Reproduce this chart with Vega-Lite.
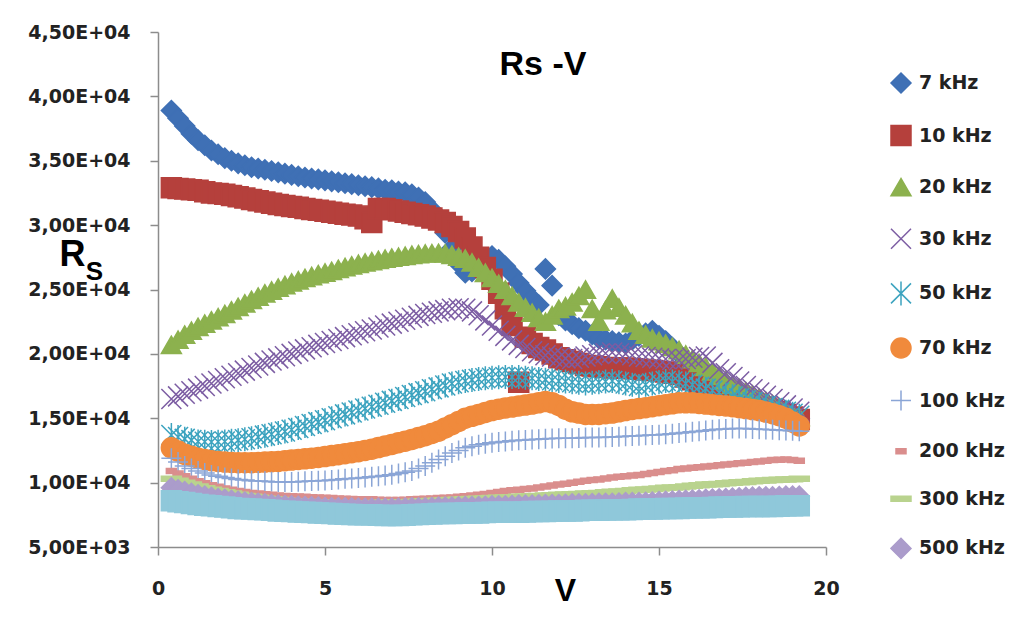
{
"$schema": "https://vega.github.io/schema/vega-lite/v6.json",
"width": 668, "height": 515,
"autosize": {"type": "none"},
"padding": {"left": 158, "top": 32, "right": 203, "bottom": 77},
"background": "white",
"config": {
 "view": {"stroke": null},
 "axis": {"grid": false, "domainColor": "#8c8c8c", "tickColor": "#8c8c8c", "domainWidth": 1.5, "tickWidth": 1.5, "tickSize": 8, "labelFont": "DejaVu Sans", "labelFontSize": 19, "labelFontWeight": "bold", "labelColor": "#222222"},
 "legend": {"title": null, "orient": "none", "legendX": 732, "legendY": 40, "symbolSize": 400, "symbolStrokeWidth": 1.5, "labelFont": "DejaVu Sans", "labelFontSize": 19, "labelFontWeight": "bold", "labelColor": "#222222", "rowPadding": 26.6, "labelOffset": 7, "padding": 0}
},
"title": {"text": "Rs -V", "font": "Liberation Sans", "fontSize": 34, "fontWeight": "bold", "color": "#000000", "anchor": "middle", "frame": "group", "dx": 51, "offset": -76, "baseline": "middle"},
"datasets": {
"a": [
{"f":7,"v":0.4,"r":38900},{"f":7,"v":0.6,"r":38300},{"f":7,"v":0.8,"r":37700},{"f":7,"v":1,"r":37100},{"f":7,"v":1.2,"r":36600},{"f":7,"v":1.4,"r":36200},{"f":7,"v":1.6,"r":35800},{"f":7,"v":1.8,"r":35500},{"f":7,"v":2,"r":35200},{"f":7,"v":2.2,"r":35000},{"f":7,"v":2.4,"r":34800},{"f":7,"v":2.6,"r":34650},{"f":7,"v":2.8,"r":34500},{"f":7,"v":3,"r":34400},{"f":7,"v":3.2,"r":34300},{"f":7,"v":3.4,"r":34200},{"f":7,"v":3.6,"r":34100},{"f":7,"v":3.8,"r":34000},{"f":7,"v":4,"r":33900},{"f":7,"v":4.2,"r":33800},{"f":7,"v":4.4,"r":33700},{"f":7,"v":4.6,"r":33620},{"f":7,"v":4.8,"r":33550},{"f":7,"v":5,"r":33480},{"f":7,"v":5.2,"r":33400},{"f":7,"v":5.4,"r":33330},{"f":7,"v":5.6,"r":33250},{"f":7,"v":5.8,"r":33180},{"f":7,"v":6,"r":33100},{"f":7,"v":6.2,"r":33020},{"f":7,"v":6.4,"r":32950},{"f":7,"v":6.6,"r":32850},{"f":7,"v":6.8,"r":32750},{"f":7,"v":7,"r":32700},{"f":7,"v":7.2,"r":32600},{"f":7,"v":7.4,"r":32550},{"f":7,"v":7.6,"r":32400},{"f":7,"v":7.8,"r":32150},{"f":7,"v":8,"r":31800},{"f":7,"v":8.2,"r":31200},{"f":7,"v":8.4,"r":30500},{"f":7,"v":8.6,"r":29400},{"f":7,"v":8.8,"r":28200},{"f":7,"v":9,"r":27000},{"f":7,"v":9.2,"r":26300},{"f":7,"v":9.4,"r":26400},{"f":7,"v":9.6,"r":26800},{"f":7,"v":9.8,"r":27300},{"f":7,"v":10,"r":27600},{"f":7,"v":10.2,"r":27300},{"f":7,"v":10.4,"r":26800},{"f":7,"v":10.6,"r":26200},{"f":7,"v":10.8,"r":25500},{"f":7,"v":11,"r":24900},{"f":7,"v":11.2,"r":24300},{"f":7,"v":11.4,"r":23800},{"f":7,"v":11.6,"r":26600},{"f":7,"v":11.8,"r":25300},{"f":7,"v":12,"r":23000},{"f":7,"v":12.2,"r":22600},{"f":7,"v":12.4,"r":22300},{"f":7,"v":12.6,"r":22000},{"f":7,"v":12.8,"r":21800},{"f":7,"v":13,"r":21500},{"f":7,"v":13.2,"r":21200},{"f":7,"v":13.4,"r":21100},{"f":7,"v":13.6,"r":21000},{"f":7,"v":13.8,"r":20900},{"f":7,"v":14,"r":20800},{"f":7,"v":14.2,"r":21100},{"f":7,"v":14.4,"r":21400},{"f":7,"v":14.6,"r":21600},{"f":7,"v":14.8,"r":21800},{"f":7,"v":15,"r":21400},{"f":7,"v":15.2,"r":21000},{"f":7,"v":15.4,"r":20500},{"f":7,"v":15.6,"r":20000},{"f":7,"v":15.8,"r":19600},{"f":7,"v":16,"r":19200},{"f":7,"v":16.2,"r":18900},{"f":7,"v":16.4,"r":18600},{"f":7,"v":16.6,"r":18200},{"f":7,"v":16.8,"r":17800},{"f":7,"v":17,"r":17550},{"f":7,"v":17.2,"r":17300},{"f":7,"v":17.4,"r":17050},{"f":7,"v":17.6,"r":16800},{"f":7,"v":17.8,"r":16550},{"f":7,"v":18,"r":16300},{"f":7,"v":18.2,"r":16100},{"f":7,"v":18.4,"r":15900},{"f":7,"v":18.6,"r":15700},{"f":7,"v":18.8,"r":15500},{"f":7,"v":19,"r":15250},{"f":7,"v":19.2,"r":15000},
{"f":10,"v":0.4,"r":32900},{"f":10,"v":0.6,"r":32850},{"f":10,"v":0.8,"r":32800},{"f":10,"v":1,"r":32750},{"f":10,"v":1.2,"r":32700},{"f":10,"v":1.4,"r":32600},{"f":10,"v":1.6,"r":32500},{"f":10,"v":1.8,"r":32450},{"f":10,"v":2,"r":32400},{"f":10,"v":2.2,"r":32300},{"f":10,"v":2.4,"r":32200},{"f":10,"v":2.6,"r":32100},{"f":10,"v":2.8,"r":32000},{"f":10,"v":3,"r":31900},{"f":10,"v":3.2,"r":31800},{"f":10,"v":3.4,"r":31700},{"f":10,"v":3.6,"r":31600},{"f":10,"v":3.8,"r":31520},{"f":10,"v":4,"r":31450},{"f":10,"v":4.2,"r":31380},{"f":10,"v":4.4,"r":31300},{"f":10,"v":4.6,"r":31220},{"f":10,"v":4.8,"r":31150},{"f":10,"v":5,"r":31080},{"f":10,"v":5.2,"r":31000},{"f":10,"v":5.4,"r":30920},{"f":10,"v":5.6,"r":30850},{"f":10,"v":5.8,"r":30780},{"f":10,"v":6,"r":30700},{"f":10,"v":6.2,"r":30500},{"f":10,"v":6.4,"r":30200},{"f":10,"v":6.6,"r":31300},{"f":10,"v":6.8,"r":31300},{"f":10,"v":7,"r":31200},{"f":10,"v":7.2,"r":31100},{"f":10,"v":7.4,"r":31000},{"f":10,"v":7.6,"r":30900},{"f":10,"v":7.8,"r":30800},{"f":10,"v":8,"r":30700},{"f":10,"v":8.2,"r":30550},{"f":10,"v":8.4,"r":30400},{"f":10,"v":8.6,"r":30200},{"f":10,"v":8.8,"r":29900},{"f":10,"v":9,"r":29500},{"f":10,"v":9.2,"r":29000},{"f":10,"v":9.4,"r":28300},{"f":10,"v":9.6,"r":27500},{"f":10,"v":9.8,"r":26700},{"f":10,"v":10,"r":25800},{"f":10,"v":10.2,"r":24700},{"f":10,"v":10.4,"r":23500},{"f":10,"v":10.6,"r":22200},{"f":10,"v":10.8,"r":17800},{"f":10,"v":11,"r":21300},{"f":10,"v":11.2,"r":20800},{"f":10,"v":11.4,"r":20500},{"f":10,"v":11.6,"r":20300},{"f":10,"v":11.8,"r":20000},{"f":10,"v":12,"r":19700},{"f":10,"v":12.2,"r":19550},{"f":10,"v":12.4,"r":19400},{"f":10,"v":12.6,"r":19250},{"f":10,"v":12.8,"r":19100},{"f":10,"v":13,"r":19050},{"f":10,"v":13.2,"r":19000},{"f":10,"v":13.4,"r":18950},{"f":10,"v":13.6,"r":18900},{"f":10,"v":13.8,"r":18900},{"f":10,"v":14,"r":18900},{"f":10,"v":14.2,"r":18850},{"f":10,"v":14.4,"r":18800},{"f":10,"v":14.6,"r":18750},{"f":10,"v":14.8,"r":18700},{"f":10,"v":15,"r":18650},{"f":10,"v":15.2,"r":18600},{"f":10,"v":15.4,"r":18500},{"f":10,"v":15.6,"r":18400},{"f":10,"v":15.8,"r":18200},{"f":10,"v":16,"r":18000},{"f":10,"v":16.2,"r":17800},{"f":10,"v":16.4,"r":17600},{"f":10,"v":16.6,"r":17400},{"f":10,"v":16.8,"r":17200},{"f":10,"v":17,"r":17000},{"f":10,"v":17.2,"r":16800},{"f":10,"v":17.4,"r":16600},{"f":10,"v":17.6,"r":16400},{"f":10,"v":17.8,"r":16200},{"f":10,"v":18,"r":16000},{"f":10,"v":18.2,"r":15850},{"f":10,"v":18.4,"r":15700},{"f":10,"v":18.6,"r":15500},{"f":10,"v":18.8,"r":15300},{"f":10,"v":19,"r":15100},{"f":10,"v":19.2,"r":14900},
{"f":20,"v":0.4,"r":20700},{"f":20,"v":0.6,"r":21100},{"f":20,"v":0.8,"r":21500},{"f":20,"v":1,"r":21800},{"f":20,"v":1.2,"r":22100},{"f":20,"v":1.4,"r":22350},{"f":20,"v":1.6,"r":22600},{"f":20,"v":1.8,"r":22850},{"f":20,"v":2,"r":23100},{"f":20,"v":2.2,"r":23380},{"f":20,"v":2.4,"r":23650},{"f":20,"v":2.6,"r":23920},{"f":20,"v":2.8,"r":24200},{"f":20,"v":3,"r":24450},{"f":20,"v":3.2,"r":24700},{"f":20,"v":3.4,"r":24920},{"f":20,"v":3.6,"r":25150},{"f":20,"v":3.8,"r":25350},{"f":20,"v":4,"r":25550},{"f":20,"v":4.2,"r":25720},{"f":20,"v":4.4,"r":25900},{"f":20,"v":4.6,"r":26050},{"f":20,"v":4.8,"r":26200},{"f":20,"v":5,"r":26320},{"f":20,"v":5.2,"r":26450},{"f":20,"v":5.4,"r":26600},{"f":20,"v":5.6,"r":26750},{"f":20,"v":5.8,"r":26880},{"f":20,"v":6,"r":27000},{"f":20,"v":6.2,"r":27100},{"f":20,"v":6.4,"r":27200},{"f":20,"v":6.6,"r":27300},{"f":20,"v":6.8,"r":27400},{"f":20,"v":7,"r":27480},{"f":20,"v":7.2,"r":27550},{"f":20,"v":7.4,"r":27620},{"f":20,"v":7.6,"r":27700},{"f":20,"v":7.8,"r":27750},{"f":20,"v":8,"r":27800},{"f":20,"v":8.2,"r":27820},{"f":20,"v":8.4,"r":27850},{"f":20,"v":8.6,"r":27800},{"f":20,"v":8.8,"r":27700},{"f":20,"v":9,"r":27550},{"f":20,"v":9.2,"r":27400},{"f":20,"v":9.4,"r":27100},{"f":20,"v":9.6,"r":26700},{"f":20,"v":9.8,"r":26300},{"f":20,"v":10,"r":25900},{"f":20,"v":10.2,"r":25450},{"f":20,"v":10.4,"r":25000},{"f":20,"v":10.6,"r":24500},{"f":20,"v":10.8,"r":24000},{"f":20,"v":11,"r":23600},{"f":20,"v":11.2,"r":23200},{"f":20,"v":11.4,"r":22800},{"f":20,"v":11.6,"r":22500},{"f":20,"v":11.8,"r":23000},{"f":20,"v":12,"r":23500},{"f":20,"v":12.2,"r":23700},{"f":20,"v":12.4,"r":24000},{"f":20,"v":12.6,"r":24500},{"f":20,"v":12.8,"r":25000},{"f":20,"v":13,"r":23500},{"f":20,"v":13.2,"r":22500},{"f":20,"v":13.4,"r":23400},{"f":20,"v":13.6,"r":24300},{"f":20,"v":13.8,"r":23600},{"f":20,"v":14,"r":23000},{"f":20,"v":14.2,"r":22400},{"f":20,"v":14.4,"r":21800},{"f":20,"v":14.6,"r":21500},{"f":20,"v":14.8,"r":21200},{"f":20,"v":15,"r":21000},{"f":20,"v":15.2,"r":20800},{"f":20,"v":15.4,"r":20550},{"f":20,"v":15.6,"r":20300},{"f":20,"v":15.8,"r":19950},{"f":20,"v":16,"r":19600},{"f":20,"v":16.2,"r":19300},{"f":20,"v":16.4,"r":19000},{"f":20,"v":16.6,"r":18650},{"f":20,"v":16.8,"r":18300},{"f":20,"v":17,"r":17950},{"f":20,"v":17.2,"r":17600},{"f":20,"v":17.4,"r":17350},{"f":20,"v":17.6,"r":17100},{"f":20,"v":17.8,"r":16850},{"f":20,"v":18,"r":16600},{"f":20,"v":18.2,"r":16350},{"f":20,"v":18.4,"r":16100},{"f":20,"v":18.6,"r":15850},{"f":20,"v":18.8,"r":15600},{"f":20,"v":19,"r":15350},{"f":20,"v":19.2,"r":15100},
{"f":30,"v":0.4,"r":16500},{"f":30,"v":0.6,"r":16700},{"f":30,"v":0.8,"r":16900},{"f":30,"v":1,"r":17100},{"f":30,"v":1.2,"r":17300},{"f":30,"v":1.4,"r":17500},{"f":30,"v":1.6,"r":17700},{"f":30,"v":1.8,"r":17900},{"f":30,"v":2,"r":18100},{"f":30,"v":2.2,"r":18300},{"f":30,"v":2.4,"r":18500},{"f":30,"v":2.6,"r":18700},{"f":30,"v":2.8,"r":18900},{"f":30,"v":3,"r":19100},{"f":30,"v":3.2,"r":19300},{"f":30,"v":3.4,"r":19480},{"f":30,"v":3.6,"r":19650},{"f":30,"v":3.8,"r":19820},{"f":30,"v":4,"r":20000},{"f":30,"v":4.2,"r":20180},{"f":30,"v":4.4,"r":20350},{"f":30,"v":4.6,"r":20520},{"f":30,"v":4.8,"r":20700},{"f":30,"v":5,"r":20850},{"f":30,"v":5.2,"r":21000},{"f":30,"v":5.4,"r":21150},{"f":30,"v":5.6,"r":21300},{"f":30,"v":5.8,"r":21450},{"f":30,"v":6,"r":21600},{"f":30,"v":6.2,"r":21750},{"f":30,"v":6.4,"r":21900},{"f":30,"v":6.6,"r":22050},{"f":30,"v":6.8,"r":22200},{"f":30,"v":7,"r":22350},{"f":30,"v":7.2,"r":22500},{"f":30,"v":7.4,"r":22650},{"f":30,"v":7.6,"r":22800},{"f":30,"v":7.8,"r":22950},{"f":30,"v":8,"r":23100},{"f":30,"v":8.2,"r":23200},{"f":30,"v":8.4,"r":23300},{"f":30,"v":8.6,"r":23400},{"f":30,"v":8.8,"r":23500},{"f":30,"v":9,"r":23550},{"f":30,"v":9.2,"r":23500},{"f":30,"v":9.4,"r":23300},{"f":30,"v":9.6,"r":23000},{"f":30,"v":9.8,"r":22600},{"f":30,"v":10,"r":22200},{"f":30,"v":10.2,"r":21800},{"f":30,"v":10.4,"r":21400},{"f":30,"v":10.6,"r":21050},{"f":30,"v":10.8,"r":20700},{"f":30,"v":11,"r":20450},{"f":30,"v":11.2,"r":20200},{"f":30,"v":11.4,"r":20050},{"f":30,"v":11.6,"r":19900},{"f":30,"v":11.8,"r":19800},{"f":30,"v":12,"r":19700},{"f":30,"v":12.2,"r":19650},{"f":30,"v":12.4,"r":19600},{"f":30,"v":12.6,"r":19700},{"f":30,"v":12.8,"r":19800},{"f":30,"v":13,"r":19900},{"f":30,"v":13.2,"r":20000},{"f":30,"v":13.4,"r":20050},{"f":30,"v":13.6,"r":20100},{"f":30,"v":13.8,"r":20050},{"f":30,"v":14,"r":20000},{"f":30,"v":14.2,"r":19900},{"f":30,"v":14.4,"r":19800},{"f":30,"v":14.6,"r":19750},{"f":30,"v":14.8,"r":19700},{"f":30,"v":15,"r":19650},{"f":30,"v":15.2,"r":19600},{"f":30,"v":15.4,"r":19550},{"f":30,"v":15.6,"r":19500},{"f":30,"v":15.8,"r":19600},{"f":30,"v":16,"r":19700},{"f":30,"v":16.2,"r":19750},{"f":30,"v":16.4,"r":19800},{"f":30,"v":16.6,"r":19300},{"f":30,"v":16.8,"r":18800},{"f":30,"v":17,"r":18500},{"f":30,"v":17.2,"r":18200},{"f":30,"v":17.4,"r":17850},{"f":30,"v":17.6,"r":17500},{"f":30,"v":17.8,"r":17250},{"f":30,"v":18,"r":17000},{"f":30,"v":18.2,"r":16750},{"f":30,"v":18.4,"r":16500},{"f":30,"v":18.6,"r":16250},{"f":30,"v":18.8,"r":16000},{"f":30,"v":19,"r":15750},{"f":30,"v":19.2,"r":15500},
{"f":50,"v":0.4,"r":13700},{"f":50,"v":0.6,"r":13550},{"f":50,"v":0.8,"r":13400},{"f":50,"v":1,"r":13300},{"f":50,"v":1.2,"r":13200},{"f":50,"v":1.4,"r":13170},{"f":50,"v":1.6,"r":13150},{"f":50,"v":1.8,"r":13170},{"f":50,"v":2,"r":13200},{"f":50,"v":2.2,"r":13250},{"f":50,"v":2.4,"r":13300},{"f":50,"v":2.6,"r":13370},{"f":50,"v":2.8,"r":13450},{"f":50,"v":3,"r":13550},{"f":50,"v":3.2,"r":13650},{"f":50,"v":3.4,"r":13750},{"f":50,"v":3.6,"r":13850},{"f":50,"v":3.8,"r":13970},{"f":50,"v":4,"r":14100},{"f":50,"v":4.2,"r":14250},{"f":50,"v":4.4,"r":14400},{"f":50,"v":4.6,"r":14550},{"f":50,"v":4.8,"r":14700},{"f":50,"v":5,"r":14850},{"f":50,"v":5.2,"r":15000},{"f":50,"v":5.4,"r":15150},{"f":50,"v":5.6,"r":15300},{"f":50,"v":5.8,"r":15450},{"f":50,"v":6,"r":15600},{"f":50,"v":6.2,"r":15750},{"f":50,"v":6.4,"r":15900},{"f":50,"v":6.6,"r":16050},{"f":50,"v":6.8,"r":16200},{"f":50,"v":7,"r":16350},{"f":50,"v":7.2,"r":16500},{"f":50,"v":7.4,"r":16650},{"f":50,"v":7.6,"r":16800},{"f":50,"v":7.8,"r":16950},{"f":50,"v":8,"r":17100},{"f":50,"v":8.2,"r":17250},{"f":50,"v":8.4,"r":17400},{"f":50,"v":8.6,"r":17550},{"f":50,"v":8.8,"r":17700},{"f":50,"v":9,"r":17800},{"f":50,"v":9.2,"r":17900},{"f":50,"v":9.4,"r":17980},{"f":50,"v":9.6,"r":18050},{"f":50,"v":9.8,"r":18100},{"f":50,"v":10,"r":18150},{"f":50,"v":10.2,"r":18180},{"f":50,"v":10.4,"r":18200},{"f":50,"v":10.6,"r":18200},{"f":50,"v":10.8,"r":18200},{"f":50,"v":11,"r":18150},{"f":50,"v":11.2,"r":18100},{"f":50,"v":11.4,"r":18050},{"f":50,"v":11.6,"r":18000},{"f":50,"v":11.8,"r":17950},{"f":50,"v":12,"r":17900},{"f":50,"v":12.2,"r":17850},{"f":50,"v":12.4,"r":17800},{"f":50,"v":12.6,"r":17750},{"f":50,"v":12.8,"r":17700},{"f":50,"v":13,"r":17750},{"f":50,"v":13.2,"r":17800},{"f":50,"v":13.4,"r":17850},{"f":50,"v":13.6,"r":17900},{"f":50,"v":13.8,"r":17800},{"f":50,"v":14,"r":17700},{"f":50,"v":14.2,"r":17600},{"f":50,"v":14.4,"r":17500},{"f":50,"v":14.6,"r":17600},{"f":50,"v":14.8,"r":17700},{"f":50,"v":15,"r":17800},{"f":50,"v":15.2,"r":17900},{"f":50,"v":15.4,"r":17850},{"f":50,"v":15.6,"r":17800},{"f":50,"v":15.8,"r":17700},{"f":50,"v":16,"r":17600},{"f":50,"v":16.2,"r":17450},{"f":50,"v":16.4,"r":17300},{"f":50,"v":16.6,"r":17150},{"f":50,"v":16.8,"r":17000},{"f":50,"v":17,"r":16850},{"f":50,"v":17.2,"r":16700},{"f":50,"v":17.4,"r":16550},{"f":50,"v":17.6,"r":16400},{"f":50,"v":17.8,"r":16250},{"f":50,"v":18,"r":16100},{"f":50,"v":18.2,"r":15950},{"f":50,"v":18.4,"r":15800},{"f":50,"v":18.6,"r":15650},{"f":50,"v":18.8,"r":15500},{"f":50,"v":19,"r":15350},{"f":50,"v":19.2,"r":15200}
],
"b": [
{"f":70,"v":0.4,"r":12700},{"f":70,"v":0.6,"r":12450},{"f":70,"v":0.8,"r":12200},{"f":70,"v":1,"r":12050},{"f":70,"v":1.2,"r":11900},{"f":70,"v":1.4,"r":11800},{"f":70,"v":1.6,"r":11700},{"f":70,"v":1.8,"r":11650},{"f":70,"v":2,"r":11600},{"f":70,"v":2.2,"r":11570},{"f":70,"v":2.4,"r":11550},{"f":70,"v":2.6,"r":11550},{"f":70,"v":2.8,"r":11550},{"f":70,"v":3,"r":11570},{"f":70,"v":3.2,"r":11600},{"f":70,"v":3.4,"r":11620},{"f":70,"v":3.6,"r":11650},{"f":70,"v":3.8,"r":11700},{"f":70,"v":4,"r":11750},{"f":70,"v":4.2,"r":11800},{"f":70,"v":4.4,"r":11850},{"f":70,"v":4.6,"r":11900},{"f":70,"v":4.8,"r":11950},{"f":70,"v":5,"r":12020},{"f":70,"v":5.2,"r":12100},{"f":70,"v":5.4,"r":12170},{"f":70,"v":5.6,"r":12250},{"f":70,"v":5.8,"r":12320},{"f":70,"v":6,"r":12400},{"f":70,"v":6.2,"r":12500},{"f":70,"v":6.4,"r":12600},{"f":70,"v":6.6,"r":12720},{"f":70,"v":6.8,"r":12850},{"f":70,"v":7,"r":12970},{"f":70,"v":7.2,"r":13100},{"f":70,"v":7.4,"r":13220},{"f":70,"v":7.6,"r":13350},{"f":70,"v":7.8,"r":13500},{"f":70,"v":8,"r":13650},{"f":70,"v":8.2,"r":13820},{"f":70,"v":8.4,"r":14000},{"f":70,"v":8.6,"r":14250},{"f":70,"v":8.8,"r":14500},{"f":70,"v":9,"r":14750},{"f":70,"v":9.2,"r":15000},{"f":70,"v":9.4,"r":15150},{"f":70,"v":9.6,"r":15300},{"f":70,"v":9.8,"r":15450},{"f":70,"v":10,"r":15600},{"f":70,"v":10.2,"r":15700},{"f":70,"v":10.4,"r":15800},{"f":70,"v":10.6,"r":15870},{"f":70,"v":10.8,"r":15950},{"f":70,"v":11,"r":16020},{"f":70,"v":11.2,"r":16100},{"f":70,"v":11.4,"r":16200},{"f":70,"v":11.6,"r":16300},{"f":70,"v":11.8,"r":16200},{"f":70,"v":12,"r":16000},{"f":70,"v":12.2,"r":15700},{"f":70,"v":12.4,"r":15500},{"f":70,"v":12.6,"r":15400},{"f":70,"v":12.8,"r":15300},{"f":70,"v":13,"r":15300},{"f":70,"v":13.2,"r":15300},{"f":70,"v":13.4,"r":15350},{"f":70,"v":13.6,"r":15400},{"f":70,"v":13.8,"r":15500},{"f":70,"v":14,"r":15600},{"f":70,"v":14.2,"r":15680},{"f":70,"v":14.4,"r":15750},{"f":70,"v":14.6,"r":15820},{"f":70,"v":14.8,"r":15900},{"f":70,"v":15,"r":15970},{"f":70,"v":15.2,"r":16050},{"f":70,"v":15.4,"r":16120},{"f":70,"v":15.6,"r":16200},{"f":70,"v":15.8,"r":16200},{"f":70,"v":16,"r":16200},{"f":70,"v":16.2,"r":16150},{"f":70,"v":16.4,"r":16100},{"f":70,"v":16.6,"r":16050},{"f":70,"v":16.8,"r":16000},{"f":70,"v":17,"r":15950},{"f":70,"v":17.2,"r":15900},{"f":70,"v":17.4,"r":15820},{"f":70,"v":17.6,"r":15750},{"f":70,"v":17.8,"r":15670},{"f":70,"v":18,"r":15600},{"f":70,"v":18.2,"r":15480},{"f":70,"v":18.4,"r":15350},{"f":70,"v":18.6,"r":15200},{"f":70,"v":18.8,"r":15000},{"f":70,"v":19,"r":14700},{"f":70,"v":19.2,"r":14400},
{"f":100,"v":0.4,"r":11900},{"f":100,"v":0.6,"r":11600},{"f":100,"v":0.8,"r":11300},{"f":100,"v":1,"r":11100},{"f":100,"v":1.2,"r":10900},{"f":100,"v":1.4,"r":10750},{"f":100,"v":1.6,"r":10600},{"f":100,"v":1.8,"r":10500},{"f":100,"v":2,"r":10400},{"f":100,"v":2.2,"r":10320},{"f":100,"v":2.4,"r":10250},{"f":100,"v":2.6,"r":10200},{"f":100,"v":2.8,"r":10150},{"f":100,"v":3,"r":10120},{"f":100,"v":3.2,"r":10100},{"f":100,"v":3.4,"r":10070},{"f":100,"v":3.6,"r":10050},{"f":100,"v":3.8,"r":10050},{"f":100,"v":4,"r":10050},{"f":100,"v":4.2,"r":10070},{"f":100,"v":4.4,"r":10100},{"f":100,"v":4.6,"r":10120},{"f":100,"v":4.8,"r":10150},{"f":100,"v":5,"r":10170},{"f":100,"v":5.2,"r":10200},{"f":100,"v":5.4,"r":10250},{"f":100,"v":5.6,"r":10300},{"f":100,"v":5.8,"r":10320},{"f":100,"v":6,"r":10350},{"f":100,"v":6.2,"r":10400},{"f":100,"v":6.4,"r":10450},{"f":100,"v":6.6,"r":10500},{"f":100,"v":6.8,"r":10550},{"f":100,"v":7,"r":10620},{"f":100,"v":7.2,"r":10700},{"f":100,"v":7.4,"r":10800},{"f":100,"v":7.6,"r":10900},{"f":100,"v":7.8,"r":11100},{"f":100,"v":8,"r":11300},{"f":100,"v":8.2,"r":11550},{"f":100,"v":8.4,"r":11800},{"f":100,"v":8.6,"r":12050},{"f":100,"v":8.8,"r":12300},{"f":100,"v":9,"r":12500},{"f":100,"v":9.2,"r":12700},{"f":100,"v":9.4,"r":12830},{"f":100,"v":9.6,"r":12950},{"f":100,"v":9.8,"r":13020},{"f":100,"v":10,"r":13100},{"f":100,"v":10.2,"r":13150},{"f":100,"v":10.4,"r":13200},{"f":100,"v":10.6,"r":13250},{"f":100,"v":10.8,"r":13300},{"f":100,"v":11,"r":13320},{"f":100,"v":11.2,"r":13350},{"f":100,"v":11.4,"r":13370},{"f":100,"v":11.6,"r":13400},{"f":100,"v":11.8,"r":13420},{"f":100,"v":12,"r":13450},{"f":100,"v":12.2,"r":13450},{"f":100,"v":12.4,"r":13450},{"f":100,"v":12.6,"r":13470},{"f":100,"v":12.8,"r":13500},{"f":100,"v":13,"r":13500},{"f":100,"v":13.2,"r":13500},{"f":100,"v":13.4,"r":13520},{"f":100,"v":13.6,"r":13550},{"f":100,"v":13.8,"r":13570},{"f":100,"v":14,"r":13600},{"f":100,"v":14.2,"r":13620},{"f":100,"v":14.4,"r":13650},{"f":100,"v":14.6,"r":13670},{"f":100,"v":14.8,"r":13700},{"f":100,"v":15,"r":13720},{"f":100,"v":15.2,"r":13750},{"f":100,"v":15.4,"r":13800},{"f":100,"v":15.6,"r":13850},{"f":100,"v":15.8,"r":13900},{"f":100,"v":16,"r":13950},{"f":100,"v":16.2,"r":14000},{"f":100,"v":16.4,"r":14050},{"f":100,"v":16.6,"r":14100},{"f":100,"v":16.8,"r":14150},{"f":100,"v":17,"r":14170},{"f":100,"v":17.2,"r":14200},{"f":100,"v":17.4,"r":14200},{"f":100,"v":17.6,"r":14200},{"f":100,"v":17.8,"r":14170},{"f":100,"v":18,"r":14150},{"f":100,"v":18.2,"r":14120},{"f":100,"v":18.4,"r":14100},{"f":100,"v":18.6,"r":14070},{"f":100,"v":18.8,"r":14050},{"f":100,"v":19,"r":14020},{"f":100,"v":19.2,"r":14000},
{"f":200,"v":0.4,"r":10900},{"f":200,"v":0.6,"r":10700},{"f":200,"v":0.8,"r":10500},{"f":200,"v":1,"r":10300},{"f":200,"v":1.2,"r":10100},{"f":200,"v":1.4,"r":9950},{"f":200,"v":1.6,"r":9800},{"f":200,"v":1.8,"r":9670},{"f":200,"v":2,"r":9550},{"f":200,"v":2.2,"r":9450},{"f":200,"v":2.4,"r":9350},{"f":200,"v":2.6,"r":9270},{"f":200,"v":2.8,"r":9200},{"f":200,"v":3,"r":9150},{"f":200,"v":3.2,"r":9100},{"f":200,"v":3.4,"r":9050},{"f":200,"v":3.6,"r":9000},{"f":200,"v":3.8,"r":8970},{"f":200,"v":4,"r":8950},{"f":200,"v":4.2,"r":8920},{"f":200,"v":4.4,"r":8900},{"f":200,"v":4.6,"r":8870},{"f":200,"v":4.8,"r":8850},{"f":200,"v":5,"r":8820},{"f":200,"v":5.2,"r":8800},{"f":200,"v":5.4,"r":8770},{"f":200,"v":5.6,"r":8750},{"f":200,"v":5.8,"r":8720},{"f":200,"v":6,"r":8700},{"f":200,"v":6.2,"r":8700},{"f":200,"v":6.4,"r":8700},{"f":200,"v":6.6,"r":8670},{"f":200,"v":6.8,"r":8650},{"f":200,"v":7,"r":8650},{"f":200,"v":7.2,"r":8650},{"f":200,"v":7.4,"r":8670},{"f":200,"v":7.6,"r":8700},{"f":200,"v":7.8,"r":8720},{"f":200,"v":8,"r":8750},{"f":200,"v":8.2,"r":8770},{"f":200,"v":8.4,"r":8800},{"f":200,"v":8.6,"r":8820},{"f":200,"v":8.8,"r":8850},{"f":200,"v":9,"r":8900},{"f":200,"v":9.2,"r":8950},{"f":200,"v":9.4,"r":9000},{"f":200,"v":9.6,"r":9050},{"f":200,"v":9.8,"r":9120},{"f":200,"v":10,"r":9200},{"f":200,"v":10.2,"r":9270},{"f":200,"v":10.4,"r":9350},{"f":200,"v":10.6,"r":9400},{"f":200,"v":10.8,"r":9450},{"f":200,"v":11,"r":9500},{"f":200,"v":11.2,"r":9550},{"f":200,"v":11.4,"r":9620},{"f":200,"v":11.6,"r":9700},{"f":200,"v":11.8,"r":9770},{"f":200,"v":12,"r":9850},{"f":200,"v":12.2,"r":9920},{"f":200,"v":12.4,"r":10000},{"f":200,"v":12.6,"r":10070},{"f":200,"v":12.8,"r":10150},{"f":200,"v":13,"r":10200},{"f":200,"v":13.2,"r":10250},{"f":200,"v":13.4,"r":10320},{"f":200,"v":13.6,"r":10400},{"f":200,"v":13.8,"r":10450},{"f":200,"v":14,"r":10500},{"f":200,"v":14.2,"r":10550},{"f":200,"v":14.4,"r":10600},{"f":200,"v":14.6,"r":10670},{"f":200,"v":14.8,"r":10750},{"f":200,"v":15,"r":10820},{"f":200,"v":15.2,"r":10900},{"f":200,"v":15.4,"r":10970},{"f":200,"v":15.6,"r":11050},{"f":200,"v":15.8,"r":11100},{"f":200,"v":16,"r":11150},{"f":200,"v":16.2,"r":11200},{"f":200,"v":16.4,"r":11250},{"f":200,"v":16.6,"r":11300},{"f":200,"v":16.8,"r":11350},{"f":200,"v":17,"r":11400},{"f":200,"v":17.2,"r":11450},{"f":200,"v":17.4,"r":11500},{"f":200,"v":17.6,"r":11550},{"f":200,"v":17.8,"r":11600},{"f":200,"v":18,"r":11650},{"f":200,"v":18.2,"r":11700},{"f":200,"v":18.4,"r":11750},{"f":200,"v":18.6,"r":11780},{"f":200,"v":18.8,"r":11800},{"f":200,"v":19,"r":11750},{"f":200,"v":19.2,"r":11700},
{"f":300,"v":0.4,"r":10300},{"f":300,"v":0.6,"r":10150},{"f":300,"v":0.8,"r":10000},{"f":300,"v":1,"r":9850},{"f":300,"v":1.2,"r":9700},{"f":300,"v":1.4,"r":9570},{"f":300,"v":1.6,"r":9450},{"f":300,"v":1.8,"r":9350},{"f":300,"v":2,"r":9250},{"f":300,"v":2.2,"r":9150},{"f":300,"v":2.4,"r":9050},{"f":300,"v":2.6,"r":8970},{"f":300,"v":2.8,"r":8900},{"f":300,"v":3,"r":8820},{"f":300,"v":3.2,"r":8750},{"f":300,"v":3.4,"r":8700},{"f":300,"v":3.6,"r":8650},{"f":300,"v":3.8,"r":8600},{"f":300,"v":4,"r":8550},{"f":300,"v":4.2,"r":8520},{"f":300,"v":4.4,"r":8500},{"f":300,"v":4.6,"r":8470},{"f":300,"v":4.8,"r":8450},{"f":300,"v":5,"r":8420},{"f":300,"v":5.2,"r":8400},{"f":300,"v":5.4,"r":8400},{"f":300,"v":5.6,"r":8400},{"f":300,"v":5.8,"r":8400},{"f":300,"v":6,"r":8400},{"f":300,"v":6.2,"r":8400},{"f":300,"v":6.4,"r":8400},{"f":300,"v":6.6,"r":8420},{"f":300,"v":6.8,"r":8450},{"f":300,"v":7,"r":8450},{"f":300,"v":7.2,"r":8450},{"f":300,"v":7.4,"r":8470},{"f":300,"v":7.6,"r":8500},{"f":300,"v":7.8,"r":8520},{"f":300,"v":8,"r":8550},{"f":300,"v":8.2,"r":8570},{"f":300,"v":8.4,"r":8600},{"f":300,"v":8.6,"r":8620},{"f":300,"v":8.8,"r":8650},{"f":300,"v":9,"r":8670},{"f":300,"v":9.2,"r":8700},{"f":300,"v":9.4,"r":8720},{"f":300,"v":9.6,"r":8750},{"f":300,"v":9.8,"r":8770},{"f":300,"v":10,"r":8800},{"f":300,"v":10.2,"r":8820},{"f":300,"v":10.4,"r":8850},{"f":300,"v":10.6,"r":8870},{"f":300,"v":10.8,"r":8900},{"f":300,"v":11,"r":8920},{"f":300,"v":11.2,"r":8950},{"f":300,"v":11.4,"r":8970},{"f":300,"v":11.6,"r":9000},{"f":300,"v":11.8,"r":9020},{"f":300,"v":12,"r":9050},{"f":300,"v":12.2,"r":9070},{"f":300,"v":12.4,"r":9100},{"f":300,"v":12.6,"r":9120},{"f":300,"v":12.8,"r":9150},{"f":300,"v":13,"r":9170},{"f":300,"v":13.2,"r":9200},{"f":300,"v":13.4,"r":9250},{"f":300,"v":13.6,"r":9300},{"f":300,"v":13.8,"r":9320},{"f":300,"v":14,"r":9350},{"f":300,"v":14.2,"r":9400},{"f":300,"v":14.4,"r":9450},{"f":300,"v":14.6,"r":9470},{"f":300,"v":14.8,"r":9500},{"f":300,"v":15,"r":9550},{"f":300,"v":15.2,"r":9600},{"f":300,"v":15.4,"r":9620},{"f":300,"v":15.6,"r":9650},{"f":300,"v":15.8,"r":9700},{"f":300,"v":16,"r":9750},{"f":300,"v":16.2,"r":9800},{"f":300,"v":16.4,"r":9850},{"f":300,"v":16.6,"r":9870},{"f":300,"v":16.8,"r":9900},{"f":300,"v":17,"r":9950},{"f":300,"v":17.2,"r":10000},{"f":300,"v":17.4,"r":10020},{"f":300,"v":17.6,"r":10050},{"f":300,"v":17.8,"r":10100},{"f":300,"v":18,"r":10150},{"f":300,"v":18.2,"r":10170},{"f":300,"v":18.4,"r":10200},{"f":300,"v":18.6,"r":10220},{"f":300,"v":18.8,"r":10250},{"f":300,"v":19,"r":10270},{"f":300,"v":19.2,"r":10300},
{"f":500,"v":0.4,"r":9600},{"f":500,"v":0.6,"r":9450},{"f":500,"v":0.8,"r":9300},{"f":500,"v":1,"r":9170},{"f":500,"v":1.2,"r":9050},{"f":500,"v":1.4,"r":8950},{"f":500,"v":1.6,"r":8850},{"f":500,"v":1.8,"r":8770},{"f":500,"v":2,"r":8700},{"f":500,"v":2.2,"r":8620},{"f":500,"v":2.4,"r":8550},{"f":500,"v":2.6,"r":8500},{"f":500,"v":2.8,"r":8450},{"f":500,"v":3,"r":8400},{"f":500,"v":3.2,"r":8350},{"f":500,"v":3.4,"r":8300},{"f":500,"v":3.6,"r":8250},{"f":500,"v":3.8,"r":8220},{"f":500,"v":4,"r":8200},{"f":500,"v":4.2,"r":8170},{"f":500,"v":4.4,"r":8150},{"f":500,"v":4.6,"r":8120},{"f":500,"v":4.8,"r":8100},{"f":500,"v":5,"r":8070},{"f":500,"v":5.2,"r":8050},{"f":500,"v":5.4,"r":8050},{"f":500,"v":5.6,"r":8050},{"f":500,"v":5.8,"r":8020},{"f":500,"v":6,"r":8000},{"f":500,"v":6.2,"r":8000},{"f":500,"v":6.4,"r":8000},{"f":500,"v":6.6,"r":8000},{"f":500,"v":6.8,"r":8000},{"f":500,"v":7,"r":8000},{"f":500,"v":7.2,"r":8000},{"f":500,"v":7.4,"r":8020},{"f":500,"v":7.6,"r":8050},{"f":500,"v":7.8,"r":8050},{"f":500,"v":8,"r":8050},{"f":500,"v":8.2,"r":8070},{"f":500,"v":8.4,"r":8100},{"f":500,"v":8.6,"r":8100},{"f":500,"v":8.8,"r":8100},{"f":500,"v":9,"r":8120},{"f":500,"v":9.2,"r":8150},{"f":500,"v":9.4,"r":8150},{"f":500,"v":9.6,"r":8150},{"f":500,"v":9.8,"r":8170},{"f":500,"v":10,"r":8200},{"f":500,"v":10.2,"r":8200},{"f":500,"v":10.4,"r":8200},{"f":500,"v":10.6,"r":8220},{"f":500,"v":10.8,"r":8250},{"f":500,"v":11,"r":8250},{"f":500,"v":11.2,"r":8250},{"f":500,"v":11.4,"r":8270},{"f":500,"v":11.6,"r":8300},{"f":500,"v":11.8,"r":8300},{"f":500,"v":12,"r":8300},{"f":500,"v":12.2,"r":8320},{"f":500,"v":12.4,"r":8350},{"f":500,"v":12.6,"r":8350},{"f":500,"v":12.8,"r":8350},{"f":500,"v":13,"r":8370},{"f":500,"v":13.2,"r":8400},{"f":500,"v":13.4,"r":8400},{"f":500,"v":13.6,"r":8400},{"f":500,"v":13.8,"r":8420},{"f":500,"v":14,"r":8450},{"f":500,"v":14.2,"r":8450},{"f":500,"v":14.4,"r":8450},{"f":500,"v":14.6,"r":8470},{"f":500,"v":14.8,"r":8500},{"f":500,"v":15,"r":8520},{"f":500,"v":15.2,"r":8550},{"f":500,"v":15.4,"r":8570},{"f":500,"v":15.6,"r":8600},{"f":500,"v":15.8,"r":8620},{"f":500,"v":16,"r":8650},{"f":500,"v":16.2,"r":8670},{"f":500,"v":16.4,"r":8700},{"f":500,"v":16.6,"r":8720},{"f":500,"v":16.8,"r":8750},{"f":500,"v":17,"r":8770},{"f":500,"v":17.2,"r":8800},{"f":500,"v":17.4,"r":8820},{"f":500,"v":17.6,"r":8850},{"f":500,"v":17.8,"r":8870},{"f":500,"v":18,"r":8900},{"f":500,"v":18.2,"r":8900},{"f":500,"v":18.4,"r":8900},{"f":500,"v":18.6,"r":8920},{"f":500,"v":18.8,"r":8950},{"f":500,"v":19,"r":8950},{"f":500,"v":19.2,"r":8950},
{"f":1000,"v":0.4,"r":8600},{"f":1000,"v":0.6,"r":8520},{"f":1000,"v":0.8,"r":8450},{"f":1000,"v":1,"r":8370},{"f":1000,"v":1.2,"r":8300},{"f":1000,"v":1.4,"r":8250},{"f":1000,"v":1.6,"r":8200},{"f":1000,"v":1.8,"r":8150},{"f":1000,"v":2,"r":8100},{"f":1000,"v":2.2,"r":8050},{"f":1000,"v":2.4,"r":8000},{"f":1000,"v":2.6,"r":7970},{"f":1000,"v":2.8,"r":7950},{"f":1000,"v":3,"r":7920},{"f":1000,"v":3.2,"r":7900},{"f":1000,"v":3.4,"r":7850},{"f":1000,"v":3.6,"r":7800},{"f":1000,"v":3.8,"r":7770},{"f":1000,"v":4,"r":7750},{"f":1000,"v":4.2,"r":7720},{"f":1000,"v":4.4,"r":7700},{"f":1000,"v":4.6,"r":7670},{"f":1000,"v":4.8,"r":7650},{"f":1000,"v":5,"r":7620},{"f":1000,"v":5.2,"r":7600},{"f":1000,"v":5.4,"r":7570},{"f":1000,"v":5.6,"r":7550},{"f":1000,"v":5.8,"r":7520},{"f":1000,"v":6,"r":7500},{"f":1000,"v":6.2,"r":7500},{"f":1000,"v":6.4,"r":7500},{"f":1000,"v":6.6,"r":7470},{"f":1000,"v":6.8,"r":7450},{"f":1000,"v":7,"r":7450},{"f":1000,"v":7.2,"r":7450},{"f":1000,"v":7.4,"r":7470},{"f":1000,"v":7.6,"r":7500},{"f":1000,"v":7.8,"r":7520},{"f":1000,"v":8,"r":7550},{"f":1000,"v":8.2,"r":7570},{"f":1000,"v":8.4,"r":7600},{"f":1000,"v":8.6,"r":7600},{"f":1000,"v":8.8,"r":7600},{"f":1000,"v":9,"r":7620},{"f":1000,"v":9.2,"r":7650},{"f":1000,"v":9.4,"r":7650},{"f":1000,"v":9.6,"r":7650},{"f":1000,"v":9.8,"r":7670},{"f":1000,"v":10,"r":7700},{"f":1000,"v":10.2,"r":7700},{"f":1000,"v":10.4,"r":7700},{"f":1000,"v":10.6,"r":7700},{"f":1000,"v":10.8,"r":7700},{"f":1000,"v":11,"r":7720},{"f":1000,"v":11.2,"r":7750},{"f":1000,"v":11.4,"r":7750},{"f":1000,"v":11.6,"r":7750},{"f":1000,"v":11.8,"r":7770},{"f":1000,"v":12,"r":7800},{"f":1000,"v":12.2,"r":7800},{"f":1000,"v":12.4,"r":7800},{"f":1000,"v":12.6,"r":7820},{"f":1000,"v":12.8,"r":7850},{"f":1000,"v":13,"r":7850},{"f":1000,"v":13.2,"r":7850},{"f":1000,"v":13.4,"r":7870},{"f":1000,"v":13.6,"r":7900},{"f":1000,"v":13.8,"r":7900},{"f":1000,"v":14,"r":7900},{"f":1000,"v":14.2,"r":7920},{"f":1000,"v":14.4,"r":7950},{"f":1000,"v":14.6,"r":7950},{"f":1000,"v":14.8,"r":7950},{"f":1000,"v":15,"r":7970},{"f":1000,"v":15.2,"r":8000},{"f":1000,"v":15.4,"r":8000},{"f":1000,"v":15.6,"r":8000},{"f":1000,"v":15.8,"r":8020},{"f":1000,"v":16,"r":8050},{"f":1000,"v":16.2,"r":8050},{"f":1000,"v":16.4,"r":8050},{"f":1000,"v":16.6,"r":8070},{"f":1000,"v":16.8,"r":8100},{"f":1000,"v":17,"r":8100},{"f":1000,"v":17.2,"r":8100},{"f":1000,"v":17.4,"r":8120},{"f":1000,"v":17.6,"r":8150},{"f":1000,"v":17.8,"r":8150},{"f":1000,"v":18,"r":8150},{"f":1000,"v":18.2,"r":8150},{"f":1000,"v":18.4,"r":8150},{"f":1000,"v":18.6,"r":8170},{"f":1000,"v":18.8,"r":8200},{"f":1000,"v":19,"r":8200},{"f":1000,"v":19.2,"r":8200}
]
},
"layer": [
{
 "data": {"name": "a"},
 "mark": {"type": "point", "filled": true, "opacity": 1, "size": 400, "strokeWidth": 1.5},
 "encoding": {
  "x": {"field": "v", "type": "quantitative", "scale": {"domain": [0, 20], "nice": false, "zero": false},
   "axis": {"values": [0, 5, 10, 15, 20], "labelPadding": 24, "labelFlush": false, "title": "V", "titleFont": "Liberation Sans", "titleFontSize": 32, "titleFontWeight": "bold", "titleColor": "#000000", "titleX": 407, "titleY": 43, "titleAlign": "center", "titleBaseline": "middle"}},
  "y": {"field": "r", "type": "quantitative", "scale": {"domain": [5000, 45000], "nice": false, "zero": false},
   "axis": {"values": [5000, 10000, 15000, 20000, 25000, 30000, 35000, 40000, 45000], "labelExpr": "datum.value >= 10000 ? replace(format(datum.value/10000, '.2f'), '.', ',') + 'E+04' : replace(format(datum.value/1000, '.2f'), '.', ',') + 'E+03'", "labelPadding": 20, "title": "R", "titleAngle": 0, "titleX": -86, "titleY": 222, "titleAlign": "center", "titleBaseline": "middle", "titleFont": "Liberation Sans", "titleFontSize": 36, "titleFontWeight": "bold", "titleColor": "#000000"}},
  "color": {"field": "f", "type": "nominal",
   "scale": {"domain": [7,10,20,30,50,70,100,200,300,500,1000], "range": ["#3F70B5","#B5403C","#8CB14E","#7C5DA3","#3CA3BF","#F08A3C","#8AA5D6","#DA8E8D","#B9D38E","#AB9CCB","#8FC8DA"]},
   "legend": {"values": [7,10,20,30,50,70,100,200,300,500], "labelExpr": "datum.value + ' kHz'"}},
  "stroke": {"field": "f", "type": "nominal",
   "scale": {"domain": [7,10,20,30,50,70,100,200,300,500,1000], "range": ["#3F70B5","#B5403C","#8CB14E","#7C5DA3","#3CA3BF","#F08A3C","#8AA5D6","#DA8E8D","#B9D38E","#AB9CCB","#8FC8DA"]},
   "legend": {"values": [7,10,20,30,50,70,100,200,300,500], "labelExpr": "datum.value + ' kHz'"}},
  "shape": {"field": "f", "type": "nominal",
   "scale": {"domain": [7,10,20,30,50,70,100,200,300,500,1000], "range": ["diamond","square","triangle-up","M-1,-1L1,1M-1,1L1,-1","M-1,-1L1,1M-1,1L1,-1M0,-1.2L0,1.2","circle","M-1,0L1,0M0,-1L0,1","M-0.5,-0.25L0.5,-0.25L0.5,0.25L-0.5,0.25Z","M-1,-0.25L1,-0.25L1,0.25L-1,0.25Z","diamond","square"]},
   "legend": {"values": [7,10,20,30,50,70,100,200,300,500], "labelExpr": "datum.value + ' kHz'"}}
 }
},
{
 "data": {"name": "b"},
 "mark": {"type": "point", "filled": true, "opacity": 1, "size": 400, "strokeWidth": 1.5},
 "encoding": {
  "x": {"field": "v", "type": "quantitative", "scale": {"domain": [0, 20], "nice": false, "zero": false},
   "axis": {"values": [0, 5, 10, 15, 20], "labelPadding": 24, "labelFlush": false, "title": "V", "titleFont": "Liberation Sans", "titleFontSize": 32, "titleFontWeight": "bold", "titleColor": "#000000", "titleX": 407, "titleY": 43, "titleAlign": "center", "titleBaseline": "middle"}},
  "y": {"field": "r", "type": "quantitative", "scale": {"domain": [5000, 45000], "nice": false, "zero": false},
   "axis": {"orient": "right", "labels": false, "ticks": false, "domain": false, "grid": false, "title": "S", "titleAngle": 0, "titleX": -732, "titleY": 239, "titleAlign": "center", "titleBaseline": "middle", "titleFont": "Liberation Sans", "titleFontSize": 26, "titleFontWeight": "bold", "titleColor": "#000000"}},
  "color": {"field": "f", "type": "nominal",
   "scale": {"domain": [7,10,20,30,50,70,100,200,300,500,1000], "range": ["#3F70B5","#B5403C","#8CB14E","#7C5DA3","#3CA3BF","#F08A3C","#8AA5D6","#DA8E8D","#B9D38E","#AB9CCB","#8FC8DA"]}},
  "stroke": {"field": "f", "type": "nominal",
   "scale": {"domain": [7,10,20,30,50,70,100,200,300,500,1000], "range": ["#3F70B5","#B5403C","#8CB14E","#7C5DA3","#3CA3BF","#F08A3C","#8AA5D6","#DA8E8D","#B9D38E","#AB9CCB","#8FC8DA"]}},
  "shape": {"field": "f", "type": "nominal",
   "scale": {"domain": [7,10,20,30,50,70,100,200,300,500,1000], "range": ["diamond","square","triangle-up","M-1,-1L1,1M-1,1L1,-1","M-1,-1L1,1M-1,1L1,-1M0,-1.2L0,1.2","circle","M-1,0L1,0M0,-1L0,1","M-0.5,-0.25L0.5,-0.25L0.5,0.25L-0.5,0.25Z","M-1,-0.25L1,-0.25L1,0.25L-1,0.25Z","diamond","square"]}}
 }
}
],
"resolve": {"axis": {"y": "independent"}}
}
